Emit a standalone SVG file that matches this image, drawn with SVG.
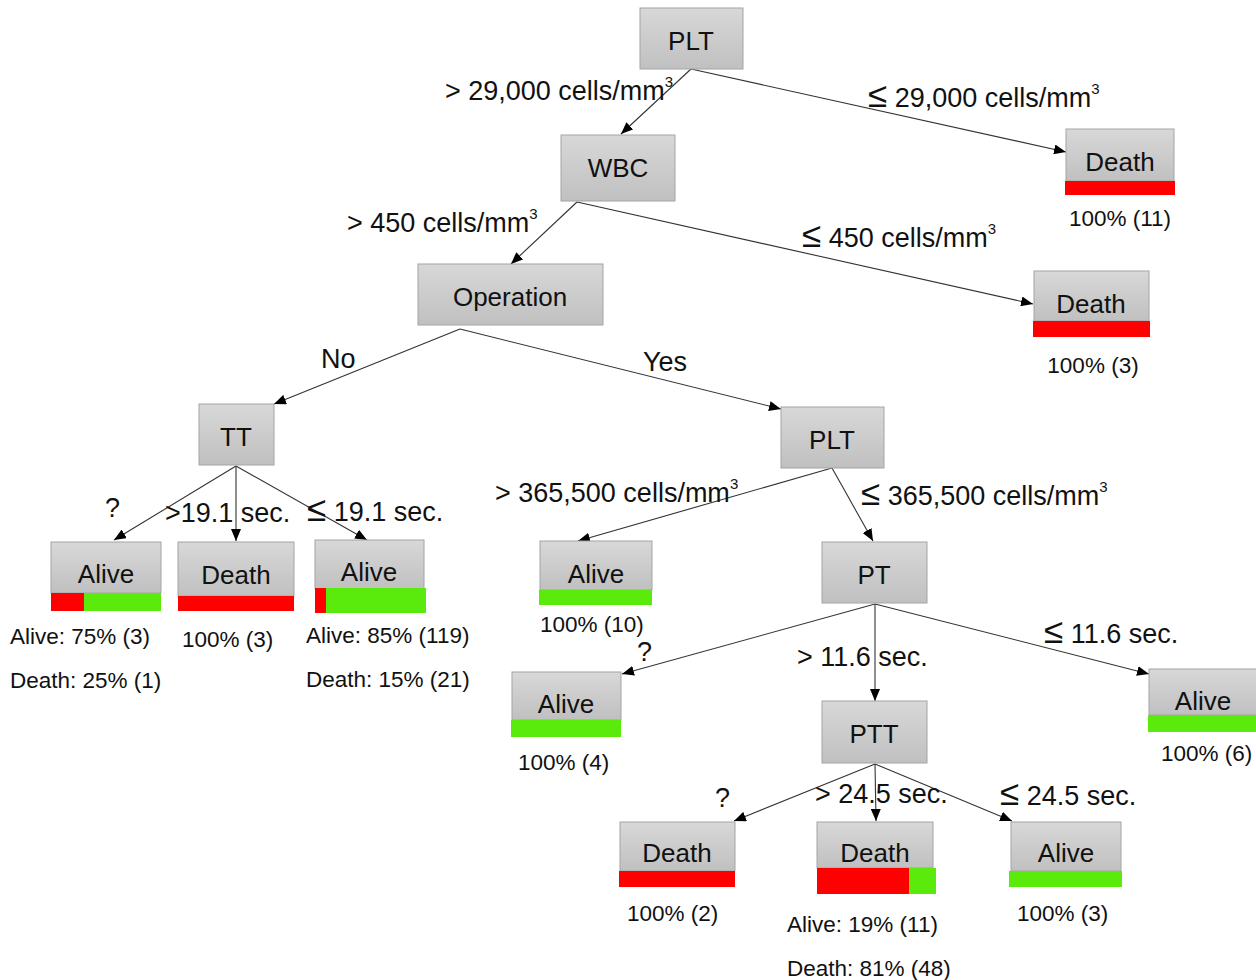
<svg xmlns="http://www.w3.org/2000/svg" width="1256" height="980" viewBox="0 0 1256 980">
<defs>
<linearGradient id="g" x1="0" y1="0" x2="0" y2="1">
<stop offset="0" stop-color="#d8d8d8"/>
<stop offset="1" stop-color="#c0c0c0"/>
</linearGradient>
<marker id="arr" viewBox="0 0 12 10" refX="12" refY="5" markerWidth="12" markerHeight="10" markerUnits="userSpaceOnUse" orient="auto">
<path d="M0,0 L12,5 L0,10 Z" fill="#000"/>
</marker>
<style>
.box{fill:url(#g);stroke:#a4a4a4;stroke-width:1}
.nt{font-family:"Liberation Sans",Arial,sans-serif;font-size:26px;fill:#111;text-anchor:middle}
.lt{font-family:"Liberation Sans",Arial,sans-serif;font-size:27px;fill:#111}
.st{font-family:"Liberation Sans",Arial,sans-serif;font-size:22.5px;fill:#111}
.sup{font-size:15px}
.le{font-size:35px}
.red{fill:#ff0000}
.grn{fill:#5aea0b}
.edge{stroke:#333;stroke-width:1.1;fill:none;marker-end:url(#arr)}
</style>
</defs>
<rect width="1256" height="980" fill="#fff"/>
<g id="connectors">
<line class="edge" x1="691" y1="69" x2="621" y2="134"/>
<line class="edge" x1="691" y1="69" x2="1066" y2="152"/>
<line class="edge" x1="577" y1="202" x2="511" y2="264"/>
<line class="edge" x1="577" y1="202" x2="1033" y2="304"/>
<line class="edge" x1="460" y1="329" x2="274" y2="404"/>
<line class="edge" x1="460" y1="329" x2="781" y2="409"/>
<line class="edge" x1="236" y1="466" x2="114" y2="540"/>
<line class="edge" x1="236" y1="466" x2="236" y2="541"/>
<line class="edge" x1="236" y1="466" x2="367" y2="540"/>
<line class="edge" x1="832" y1="468" x2="578" y2="541"/>
<line class="edge" x1="832" y1="468" x2="873" y2="541"/>
<line class="edge" x1="875" y1="604" x2="622" y2="674"/>
<line class="edge" x1="875" y1="604" x2="875" y2="701"/>
<line class="edge" x1="875" y1="604" x2="1149" y2="674"/>
<line class="edge" x1="875" y1="764" x2="734" y2="821"/>
<line class="edge" x1="875" y1="764" x2="876" y2="821"/>
<line class="edge" x1="875" y1="764" x2="1012" y2="821"/>
</g>
<g id="edge-labels">
<text class="lt" x="445" y="100">&gt; 29,000 cells/mm<tspan class="sup" dy="-13">3</tspan></text>
<text class="lt" x="868" y="107"><tspan class="le">≤</tspan> 29,000 cells/mm<tspan class="sup" dy="-13">3</tspan></text>
<text class="lt" x="347" y="232">&gt; 450 cells/mm<tspan class="sup" dy="-13">3</tspan></text>
<text class="lt" x="802" y="247"><tspan class="le">≤</tspan> 450 cells/mm<tspan class="sup" dy="-13">3</tspan></text>
<text class="lt" x="321" y="368">No</text>
<text class="lt" x="643" y="371">Yes</text>
<text class="lt" x="105" y="517">?</text>
<text class="lt" x="165" y="522">&gt;19.1 sec.</text>
<text class="lt" x="307" y="521"><tspan class="le">≤</tspan> 19.1 sec.</text>
<text class="lt" x="495" y="502">&gt; 365,500 cells/mm<tspan class="sup" dy="-13">3</tspan></text>
<text class="lt" x="861" y="505"><tspan class="le">≤</tspan> 365,500 cells/mm<tspan class="sup" dy="-13">3</tspan></text>
<text class="lt" x="637" y="661">?</text>
<text class="lt" x="797" y="666">&gt; 11.6 sec.</text>
<text class="lt" x="1044" y="643"><tspan class="le">≤</tspan> 11.6 sec.</text>
<text class="lt" x="715" y="807">?</text>
<text class="lt" x="815" y="803">&gt; 24.5 sec.</text>
<text class="lt" x="1000" y="805"><tspan class="le">≤</tspan> 24.5 sec.</text>
</g>
<g id="n-plt"><rect class="box" x="640" y="8" width="103" height="61"/><text class="nt" x="691" y="50">PLT</text></g>
<g id="n-wbc"><rect class="box" x="561" y="135" width="114" height="66"/><text class="nt" x="618" y="177">WBC</text></g>
<g id="n-death1"><rect class="box" x="1066" y="129" width="108" height="52"/><rect class="red" x="1065" y="181" width="110" height="14"/><text class="nt" x="1120" y="171">Death</text><text class="st" x="1120" y="226" text-anchor="middle">100% (11)</text></g>
<g id="n-operation"><rect class="box" x="418" y="264" width="185" height="61"/><text class="nt" x="510" y="306">Operation</text></g>
<g id="n-death2"><rect class="box" x="1034" y="271" width="115" height="50"/><rect class="red" x="1033" y="321" width="117" height="16"/><text class="nt" x="1091" y="313">Death</text><text class="st" x="1093" y="373" text-anchor="middle">100% (3)</text></g>
<g id="n-tt"><rect class="box" x="199" y="404" width="75" height="61"/><text class="nt" x="236" y="446">TT</text></g>
<g id="n-plt2"><rect class="box" x="781" y="407" width="103" height="61"/><text class="nt" x="832" y="449">PLT</text></g>
<g id="n-alive1"><rect class="box" x="51" y="542" width="110" height="51"/><rect class="red" x="51" y="593" width="33" height="18"/><rect class="grn" x="84" y="593" width="77" height="18"/><text class="nt" x="106" y="583">Alive</text><text class="st" x="10" y="644">Alive: 75% (3)</text><text class="st" x="10" y="688">Death: 25% (1)</text></g>
<g id="n-death5"><rect class="box" x="178" y="542" width="116" height="54"/><rect class="red" x="178" y="596" width="116" height="15"/><text class="nt" x="236" y="584">Death</text><text class="st" x="182" y="647">100% (3)</text></g>
<g id="n-alive2"><rect class="box" x="315" y="540" width="109" height="49"/><rect class="red" x="315" y="588" width="11" height="25"/><rect class="grn" x="326" y="588" width="100" height="25"/><text class="nt" x="369" y="581">Alive</text><text class="st" x="306" y="643">Alive: 85% (119)</text><text class="st" x="306" y="687">Death: 15% (21)</text></g>
<g id="n-alive3"><rect class="box" x="540" y="541" width="112" height="49"/><rect class="grn" x="539" y="590" width="113" height="15"/><text class="nt" x="596" y="583">Alive</text><text class="st" x="540" y="632">100% (10)</text></g>
<g id="n-pt"><rect class="box" x="822" y="542" width="105" height="61"/><text class="nt" x="874" y="584">PT</text></g>
<g id="n-alive4"><rect class="box" x="512" y="672" width="109" height="48"/><rect class="grn" x="511" y="720" width="110" height="17"/><text class="nt" x="566" y="713">Alive</text><text class="st" x="518" y="770">100% (4)</text></g>
<g id="n-ptt"><rect class="box" x="822" y="701" width="105" height="62"/><text class="nt" x="874" y="743">PTT</text></g>
<g id="n-alive5"><rect class="box" x="1149" y="669" width="108" height="46"/><rect class="grn" x="1148" y="715" width="108" height="17"/><text class="nt" x="1203" y="710">Alive</text><text class="st" x="1161" y="761">100% (6)</text></g>
<g id="n-death3"><rect class="box" x="620" y="822" width="115" height="49"/><rect class="red" x="619" y="871" width="116" height="16"/><text class="nt" x="677" y="862">Death</text><text class="st" x="627" y="921">100% (2)</text></g>
<g id="n-death4"><rect class="box" x="817" y="822" width="116" height="46"/><rect class="red" x="817" y="868" width="92" height="26"/><rect class="grn" x="909" y="868" width="27" height="26"/><text class="nt" x="875" y="862">Death</text><text class="st" x="787" y="932">Alive: 19% (11)</text><text class="st" x="787" y="976">Death: 81% (48)</text></g>
<g id="n-alive6"><rect class="box" x="1011" y="822" width="110" height="49"/><rect class="grn" x="1009" y="871" width="113" height="16"/><text class="nt" x="1066" y="862">Alive</text><text class="st" x="1017" y="921">100% (3)</text></g>
</svg>
